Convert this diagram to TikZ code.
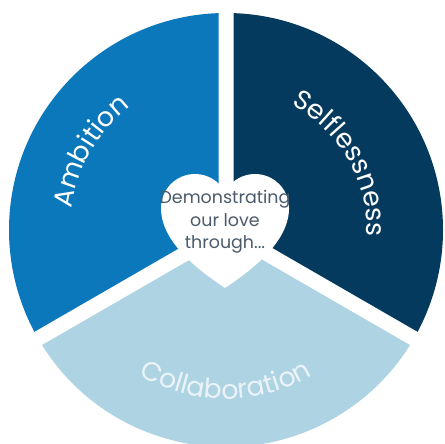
\documentclass[tikz,border=0pt]{standalone}
\usepackage{fontspec}
\setmainfont{Poppins}
\usetikzlibrary{decorations.text}

\definecolor{ambitionblue}{HTML}{0B78BC}
\definecolor{selflessblue}{HTML}{053A5F}
\definecolor{collabblue}{HTML}{AED3E3}
\definecolor{hearttext}{HTML}{4B5B6B}
\definecolor{collabtext}{HTML}{EAF4F8}

\newcommand{\labelfont}{\fontsize{19}{19}\selectfont}

\tikzset{
  gap/.style={white, line width=0.375cm},
  heart/.style={fill=white},
  arclabel/.style={decorate, decoration={text along path, text align=center, text color=#1}}
}

\begin{document}
\begin{tikzpicture}[x=0.025cm, y=0.025cm]
                \useasboundingbox (0,0) rectangle (445,443);
                \clip (0,0) rectangle (445,443);

                \coordinate (o) at (226,213);
                \path (o) ++(90:240) coordinate (gapn)
                      (o) ++(210:240) coordinate (gapsw)
                      (o) ++(330:240) coordinate (gapse);

                \fill[ambitionblue] (o) -- ++(90:217) arc[start angle=90, end angle=210, radius=217] -- cycle;
                \fill[selflessblue] (o) -- ++(90:217) arc[start angle=90, end angle=-30, radius=217] -- cycle;
                \fill[collabblue] (o) -- ++(210:217) arc[start angle=210, end angle=330, radius=217] -- cycle;

                \draw[gap]
                (o) -- (gapn)
                (o) -- (gapsw)
                (o) -- (gapse);

                \path[arclabel=white, decoration={text={|\labelfont|Ambition}}]
                (o) ++(200:156) arc[start angle=200, end angle=100, radius=156];
                \path[arclabel=white, decoration={text={|\labelfont|Selflessness}}]
                (o) ++(80:141) arc[start angle=80, end angle=-20, radius=141];
                \path[arclabel=collabtext, decoration={text={|\labelfont|Collaboration}}]
                (o) ++(220:169) arc[start angle=220, end angle=320, radius=169];

                \fill[heart] (225,155) .. controls (200,172) and (161,200) .. (161,235)
                arc[start angle=180, end angle=28, radius=34]
                arc[start angle=152, end angle=0, radius=34]
                .. controls (289,200) and (250,172) .. (225,155) -- cycle;

                \node[text=hearttext, font=\fontsize{12.4}{16}\selectfont, align=center]
                (centre) at (225,221) {Demonstrating\\our love\\through...};
\end{tikzpicture}
\end{document}
